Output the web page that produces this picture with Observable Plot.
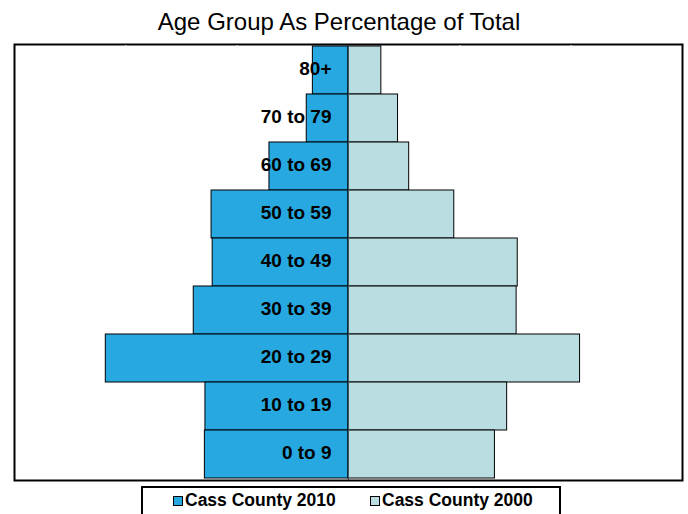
<!DOCTYPE html>
<html>
<head>
<meta charset="utf-8">
<script src="https://cdn.jsdelivr.net/npm/d3@7"></script>
<script src="https://cdn.jsdelivr.net/npm/@observablehq/plot@0.6"></script>
<style>
  html, body { margin: 0; padding: 0; background: #fff; }
  body { width: 688px; height: 514px; overflow: hidden; font-family: Arial, "Liberation Sans", sans-serif; }
  #title { height: 38px; padding-top: 2px; line-height: 40px; text-align: center; font-size: 24px; color: #000; margin-left: -10px; }
  #chart svg { display: block; }
  #legend { position: relative; margin-left: 141px; margin-top: 0px; width: 416px; height: 40px; border: 2px solid #000; border-bottom: none; }
  .item { position: absolute; top: 0; height: 24px; line-height: 24px; font-weight: bold; font-size: 17.5px; color: #000; white-space: nowrap; }
  .sw { display: inline-block; width: 8px; height: 8px; border: 1px solid #000; margin-right: 2px; vertical-align: 0px; }
</style>
</head>
<body>
<div id="title">Age Group As Percentage of Total</div>
<div id="chart"></div>
<div id="legend"></div>
<script>
const ageGroups = ["80+", "70 to 79", "60 to 69", "50 to 59", "40 to 49", "30 to 39", "20 to 29", "10 to 19", "0 to 9"];
const cass2010 = [3.2, 3.75, 7.1, 12.3, 12.2, 13.9, 21.8, 12.85, 12.9];
const cass2000 = [2.95, 4.45, 5.45, 9.5, 15.2, 15.1, 20.8, 14.25, 13.15];
const seriesNames = ["Cass County 2010", "Cass County 2000"];
const seriesColors = ["#27A8E0", "#B9DDE0"];
const xTicks = [-20, -10, 10, 20];

const rows2010 = ageGroups.map((a, i) => ({age: a, value: cass2010[i]}));
const rows2000 = ageGroups.map((a, i) => ({age: a, value: cass2000[i]}));

const chart = Plot.plot({
  width: 688,
  height: 446,
  marginTop: 4,
  marginBottom: 6,
  marginLeft: 14,
  marginRight: 6,
  x: {domain: [-30, 30], axis: null},
  y: {domain: ageGroups, type: "band", padding: 0, axis: null},
  marks: [
    Plot.barX(rows2010, {y: "age", x1: 0, x2: d => -d.value, fill: seriesColors[0], stroke: "#000", strokeWidth: 1}),
    Plot.barX(rows2000, {y: "age", x1: 0, x2: d => d.value, fill: seriesColors[1], stroke: "#000", strokeWidth: 1}),
    Plot.ruleX([0], {stroke: "#3a5a66", strokeWidth: 1}),
    Plot.text(rows2010, {y: "age", x: 0, text: "age", textAnchor: "end", dx: -17, dy: -2, fontSize: 19, fontWeight: "bold", fill: "#000", fontFamily: "Arial, 'Liberation Sans', sans-serif"}),
    Plot.frame({stroke: "#000", strokeWidth: 2}),
    Plot.axisX({anchor: "top", ticks: xTicks, tickSize: -3, tickFormat: () => "", label: null, stroke: "#fff", strokeWidth: 1})
  ]
});
document.getElementById("chart").appendChild(chart);

const legend = document.getElementById("legend");
const lefts = [30, 227];
seriesNames.forEach((name, i) => {
  const item = document.createElement("div");
  item.className = "item";
  item.style.left = lefts[i] + "px";
  const sw = document.createElement("span");
  sw.className = "sw";
  sw.style.background = seriesColors[i];
  item.appendChild(sw);
  item.appendChild(document.createTextNode(name));
  legend.appendChild(item);
});
</script>
</body>
</html>
